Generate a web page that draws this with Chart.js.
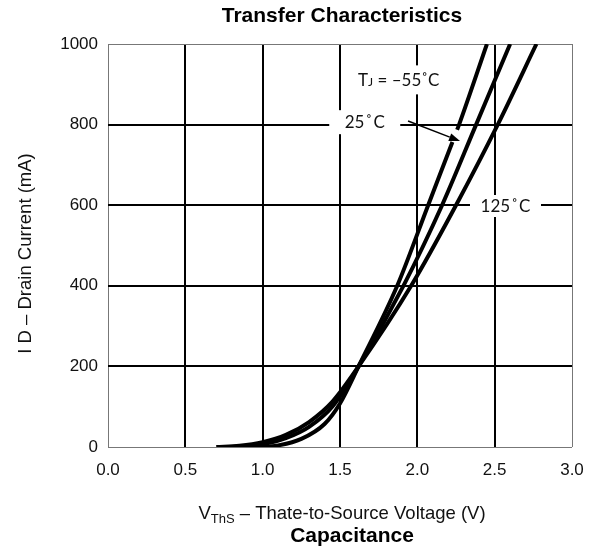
<!DOCTYPE html>
<html>
<head>
<meta charset="utf-8">
<script src="https://cdn.jsdelivr.net/npm/chart.js@4/dist/chart.umd.min.js"></script>
<style>
  html, body { margin: 0; padding: 0; background: #fff; }
  #wrap { width: 602px; height: 549px; }
</style>
</head>
<body>
<div id="wrap"><canvas id="c" width="602" height="549"></canvas></div>
<script>
// Axis ranges / ticks
const xMin = 0, xMax = 3, xStep = 0.5;
const yMin = 0, yMax = 1000, yStep = 200;

// Gate voltage (V) and drain current (mA) for each junction temperature
const vgsM55 = [0.95, 1.1, 1.25, 1.4, 1.5, 1.62, 1.87, 2.07, 2.227, 2.257, 2.27, 2.45];
const idM55  = [0,    4,   20,   57,  108, 200,  400,  600,  757,   787,   800,  1000];
const vgs25  = [0.8, 1.0, 1.15, 1.3, 1.45, 1.62, 1.91, 2.16, 2.38, 2.60];
const id25   = [0,   7,   22,   50,  100,  200,  400,  600,  800,  1000];
const vgs125 = [0.7, 0.85, 1.0, 1.15, 1.3, 1.45, 1.62, 1.96, 2.25, 2.52, 2.77];
const id125  = [0,   3,    12,  30,   62,  112,  200,  400,  600,  800,  1000];

// Text
const chartTitle = 'Transfer Characteristics';
const yTitle = 'I D \u2013 Drain Current (mA)';
const xTitleParts = [['V', 18.5, 0], ['ThS', 13, 4], [' \u2013 Thate-to-Source Voltage (V)', 18.5, 0]];
const caption = 'Capacitance';

// Curve labels: text parts, anchor in data units, white backing box size
const curveNotes = [
  { parts: [['T', 17, 0], ['J', 12, 0], [' = \u201355\u02DAC', 17, 0]], x: 1.88, y: 911, w: 82, h: 29 },
  { parts: [['25\u200A\u02DA\u200AC', 17, 0]], x: 1.66, y: 806, w: 71, h: 24 },
  { parts: [['125\u200A\u02DA\u200AC', 17, 0]], x: 2.57, y: 598, w: 71, h: 22 }
];
// Arrow pointing from the 25 °C label to its curve
const arrowFrom = { x: 1.94, y: 809 };
const arrowTo = { x: 2.276, y: 759 };

const pts = (xs, ys) => xs.map((v, i) => ({ x: v, y: ys[i] }));

const SANS = '"Liberation Sans", Arial, sans-serif';
const NOTE_FONT = 'Lato, "Open Sans", sans-serif';

function drawParts(ctx, parts, cx, cy, family, weight) {
  let total = 0;
  parts.forEach(p => {
    ctx.font = `${weight || ''} ${p[1]}px ${family}`;
    total += ctx.measureText(p[0]).width;
  });
  let x = cx - total / 2;
  const base = cy + parts[0][1] * 0.36;
  ctx.textAlign = 'left';
  ctx.textBaseline = 'alphabetic';
  parts.forEach(p => {
    ctx.font = `${weight || ''} ${p[1]}px ${family}`;
    ctx.fillText(p[0], x, base + p[2]);
    x += ctx.measureText(p[0]).width;
  });
}

const annotate = {
  id: 'annotate',
  beforeDatasetsDraw(chart) {
    const { ctx, scales: { x, y } } = chart;
    ctx.save();
    curveNotes.forEach(n => {
      const px = x.getPixelForValue(n.x), py = y.getPixelForValue(n.y);
      ctx.fillStyle = '#fff';
      ctx.fillRect(px - n.w / 2, py - n.h / 2, n.w, n.h);
      ctx.fillStyle = '#111';
      drawParts(ctx, n.parts, px, py, NOTE_FONT, '');
    });
    ctx.restore();
  },
  afterDraw(chart) {
    const { ctx, chartArea, scales: { x, y } } = chart;
    ctx.save();
    // arrow
    const x0 = x.getPixelForValue(arrowFrom.x), y0 = y.getPixelForValue(arrowFrom.y);
    const x1 = x.getPixelForValue(arrowTo.x), y1 = y.getPixelForValue(arrowTo.y);
    const ang = Math.atan2(y1 - y0, x1 - x0);
    const hl = 11, hw = 4;
    const bx = x1 - hl * Math.cos(ang), by = y1 - hl * Math.sin(ang);
    ctx.strokeStyle = '#000';
    ctx.lineWidth = 1.5;
    ctx.beginPath();
    ctx.moveTo(x0, y0);
    ctx.lineTo(bx, by);
    ctx.stroke();
    ctx.fillStyle = '#000';
    ctx.beginPath();
    ctx.moveTo(x1, y1);
    ctx.lineTo(bx + hw * Math.sin(ang), by - hw * Math.cos(ang));
    ctx.lineTo(bx - hw * Math.sin(ang), by + hw * Math.cos(ang));
    ctx.closePath();
    ctx.fill();

    // titles
    const cx = (chartArea.left + chartArea.right) / 2;
    ctx.fillStyle = '#000';
    ctx.textAlign = 'center';
    ctx.textBaseline = 'middle';
    ctx.font = `bold 21px ${SANS}`;
    ctx.fillText(chartTitle, cx + 2, 16);
    ctx.fillStyle = '#111';
    drawParts(ctx, xTitleParts, cx + 2, 512, SANS, '');
    ctx.fillStyle = '#000';
    ctx.textAlign = 'center';
    ctx.textBaseline = 'middle';
    ctx.font = `bold 21px ${SANS}`;
    ctx.fillText(caption, cx + 12, 536);

    // vertical axis title
    ctx.translate(26, (chartArea.top + chartArea.bottom) / 2 + 8);
    ctx.rotate(-Math.PI / 2);
    ctx.fillStyle = '#111';
    ctx.font = `18.5px ${SANS}`;
    ctx.fillText(yTitle, 0, 0);
    ctx.restore();
  }
};

const edgeAware = (lo, hi) => ({
  color: c => (c.tick && (c.tick.value === lo || c.tick.value === hi)) ? '#777' : '#000',
  lineWidth: c => (c.tick && (c.tick.value === lo || c.tick.value === hi)) ? 1 : 2,
  drawTicks: false
});

const lineStyle = {
  borderColor: '#000',
  borderWidth: 4,
  pointRadius: 0,
  fill: false,
  cubicInterpolationMode: 'monotone'
};

new Chart(document.getElementById('c'), {
  type: 'line',
  data: {
    datasets: [
      Object.assign({ label: '-55', data: pts(vgsM55, idM55),
        segment: { borderColor: c => c.p0DataIndex === 8 ? 'rgba(0,0,0,0)' : '#000' } }, lineStyle),
      Object.assign({ label: '25', data: pts(vgs25, id25) }, lineStyle),
      Object.assign({ label: '125', data: pts(vgs125, id125) }, lineStyle)
    ]
  },
  options: {
    responsive: false,
    animation: false,
    devicePixelRatio: 1,
    layout: { padding: { left: 0, right: 30, top: 44, bottom: 0 } },
    plugins: { legend: { display: false }, tooltip: { enabled: false }, title: { display: false } },
    scales: {
      x: {
        type: 'linear', min: xMin, max: xMax,
        grid: edgeAware(xMin, xMax),
        border: { display: false },
        ticks: { stepSize: xStep, padding: 13, color: '#111', font: { family: SANS, size: 17 },
                 callback: v => v.toFixed(1), maxRotation: 0 },
        afterFit: s => { s.height = 102; }
      },
      y: {
        type: 'linear', min: yMin, max: yMax,
        grid: edgeAware(yMin, yMax),
        border: { display: false },
        ticks: { stepSize: yStep, padding: 10, color: '#111', font: { family: SANS, size: 17 },
                 callback: v => String(v) },
        afterFit: s => { s.width = 108; }
      }
    }
  },
  plugins: [annotate]
});
</script>
</body>
</html>
